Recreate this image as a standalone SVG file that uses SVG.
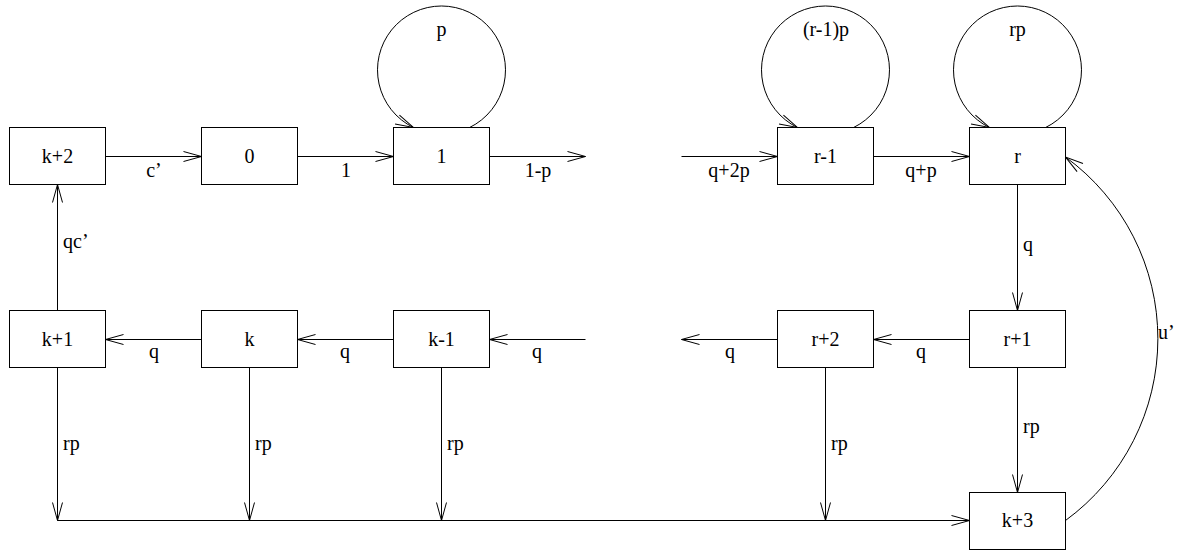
<svg xmlns="http://www.w3.org/2000/svg" width="1181" height="552" viewBox="0 0 1181 552">
<style>
.box{fill:#fff;stroke:#000;stroke-width:1}
.ln{fill:none;stroke:#000;stroke-width:1}
.t{font-family:"Liberation Serif","Times New Roman",serif;font-size:20px;fill:#000}
.c{text-anchor:middle}
</style>
<defs>
<marker id="ah" markerWidth="20" markerHeight="12" refX="19" refY="6" orient="auto" markerUnits="userSpaceOnUse" viewBox="0 0 20 12">
<path d="M1,1 L19,6 L1,11" fill="none" stroke="#000" stroke-width="1"/>
</marker>
</defs>
<rect width="1181" height="552" fill="#fff"/>
<g id="connectors">
<path class="ln" d="M105.5,156.5 H201.5" marker-end="url(#ah)"/>
<path class="ln" d="M297.5,156.5 H393.5" marker-end="url(#ah)"/>
<path class="ln" d="M489.5,156.5 H585.5" marker-end="url(#ah)"/>
<path class="ln" d="M681.5,156.5 H777.5" marker-end="url(#ah)"/>
<path class="ln" d="M873.5,156.5 H969.5" marker-end="url(#ah)"/>
<path class="ln" d="M201.5,339.5 H105.5" marker-end="url(#ah)"/>
<path class="ln" d="M393.5,339.5 H297.5" marker-end="url(#ah)"/>
<path class="ln" d="M585.5,339.5 H489.5" marker-end="url(#ah)"/>
<path class="ln" d="M777.5,339.5 H681.5" marker-end="url(#ah)"/>
<path class="ln" d="M969.5,339.5 H873.5" marker-end="url(#ah)"/>
<path class="ln" d="M57.5,310.5 V184.5" marker-end="url(#ah)"/>
<path class="ln" d="M1017.5,184.5 V310.5" marker-end="url(#ah)"/>
<path class="ln" d="M1017.5,367.5 V492.5" marker-end="url(#ah)"/>
<path class="ln" d="M57.5,367.5 V520.5" marker-end="url(#ah)"/>
<path class="ln" d="M249.5,367.5 V520.5" marker-end="url(#ah)"/>
<path class="ln" d="M441.5,367.5 V520.5" marker-end="url(#ah)"/>
<path class="ln" d="M825.5,367.5 V520.5" marker-end="url(#ah)"/>
<path class="ln" d="M57.5,520.5 H969.5" marker-end="url(#ah)"/>
<path class="ln" d="M1065.5,520.5 A225,225 0 0 0 1065.5,157" marker-end="url(#ah)"/>
<path class="ln" d="M469.6,127.5 A64,64 0 1 0 413.4,127.5" marker-end="url(#ah)"/>
<path class="ln" d="M853.6,127.5 A64,64 0 1 0 797.4,127.5" marker-end="url(#ah)"/>
<path class="ln" d="M1045.6,127.5 A64,64 0 1 0 989.4,127.5" marker-end="url(#ah)"/>
<text class="t c" x="154" y="177">c’</text>
<text class="t c" x="346" y="177">1</text>
<text class="t c" x="538" y="177">1-p</text>
<text class="t c" x="729" y="177">q+2p</text>
<text class="t c" x="921" y="177">q+p</text>
<text class="t c" x="154" y="358">q</text>
<text class="t c" x="345" y="358">q</text>
<text class="t c" x="537" y="358">q</text>
<text class="t c" x="730" y="358">q</text>
<text class="t c" x="921" y="358">q</text>
<text class="t" x="63" y="248">qc’</text>
<text class="t" x="1023" y="251">q</text>
<text class="t" x="63" y="450">rp</text>
<text class="t" x="255" y="450">rp</text>
<text class="t" x="447" y="450">rp</text>
<text class="t" x="831" y="450">rp</text>
<text class="t" x="1023" y="433">rp</text>
<text class="t" x="1158" y="339">u’</text>
<text class="t c" x="441.5" y="36">p</text>
<text class="t c" x="826" y="36">(r-1)p</text>
<text class="t c" x="1017.5" y="36">rp</text>
</g>
<g id="n_k2"><rect class="box" x="9.5" y="127.5" width="96" height="57"/><text class="t c" x="57.5" y="162.5">k+2</text></g>
<g id="n_0"><rect class="box" x="201.5" y="127.5" width="96" height="57"/><text class="t c" x="249.5" y="162.5">0</text></g>
<g id="n_1"><rect class="box" x="393.5" y="127.5" width="96" height="57"/><text class="t c" x="441.5" y="162.5">1</text></g>
<g id="n_rm1"><rect class="box" x="777.5" y="127.5" width="96" height="57"/><text class="t c" x="825.5" y="162.5">r-1</text></g>
<g id="n_r"><rect class="box" x="969.5" y="127.5" width="96" height="57"/><text class="t c" x="1017.5" y="162.5">r</text></g>
<g id="n_k1"><rect class="box" x="9.5" y="310.5" width="96" height="57"/><text class="t c" x="57.5" y="345.5">k+1</text></g>
<g id="n_k"><rect class="box" x="201.5" y="310.5" width="96" height="57"/><text class="t c" x="249.5" y="345.5">k</text></g>
<g id="n_km1"><rect class="box" x="393.5" y="310.5" width="96" height="57"/><text class="t c" x="441.5" y="345.5">k-1</text></g>
<g id="n_r2"><rect class="box" x="777.5" y="310.5" width="96" height="57"/><text class="t c" x="825.5" y="345.5">r+2</text></g>
<g id="n_r1"><rect class="box" x="969.5" y="310.5" width="96" height="57"/><text class="t c" x="1017.5" y="345.5">r+1</text></g>
<g id="n_k3"><rect class="box" x="969.5" y="492.5" width="96" height="57"/><text class="t c" x="1017.5" y="527">k+3</text></g>
</svg>
